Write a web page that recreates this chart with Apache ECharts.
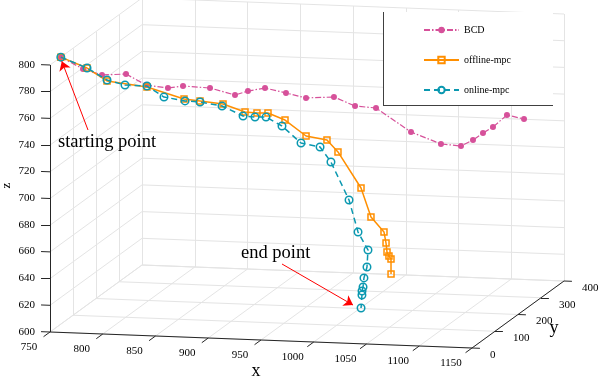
<!DOCTYPE html>
<html>
<head>
<meta charset="utf-8">
<script src="https://cdn.jsdelivr.net/npm/echarts@6/dist/echarts.min.js"></script>
<style>
html, body { margin: 0; padding: 0; background: #fff; }
#chart { width: 600px; height: 378px; }
</style>
</head>
<body>
<div id="chart"></div>
<script>
// axis ticks
var xTicks = [750, 800, 850, 900, 950, 1000, 1050, 1100, 1150];
var yTicks = [0, 100, 200, 300, 400];
var zTicks = [600, 620, 640, 660, 680, 700, 720, 740, 760, 780, 800];

var seriesNames = ['BCD', 'offline-mpc', 'online-mpc'];

// BCD trajectory
var bcdX = [750, 769.3, 785.1, 805.7, 822.5, 841.1, 853.2, 876.6, 898.1, 908.2, 922.2, 939.9, 956.7, 981.0, 998.8, 1016.5, 1047.5, 1073.7, 1090.5, 1099.7, 1107.0, 1113.2, 1122.1, 1133.9];
var bcdY = [47, 55, 65, 75, 85, 95, 105, 115, 125, 135, 145, 155, 165, 175, 185, 195, 205, 215, 225, 235, 245, 260, 280, 300];
var bcdZ = [800, 790.7, 785.4, 785.5, 776.5, 773.6, 774.2, 772.1, 766.3, 768.3, 769.7, 765.3, 760.8, 761.0, 753.5, 751.3, 733.0, 723.6, 721.3, 724.8, 729.0, 731.8, 738.6, 733.4];

// offline-mpc trajectory
var offX = [750, 774.2, 792.7, 829.7, 864.4, 879.1, 900.5, 920.9, 931.8, 941.8, 957.5, 977.0, 996.4, 1006.4, 1027.8, 1036.8, 1048.7, 1050.2, 1050.7, 1052.1, 1053.6, 1053.2];
var offY = [47, 50, 52, 56, 58, 60, 62, 64, 66, 68, 70, 72, 74, 76, 78, 80, 82, 84, 86, 88, 90, 92];
var offZ = [800, 792.2, 782.8, 778.9, 770.7, 769.4, 767.5, 761.9, 761.2, 761.3, 756.2, 744.6, 741.9, 733.0, 706.4, 684.7, 673.6, 665.1, 658.1, 654.9, 652.5, 641.0];

// online-mpc trajectory
var onX = [750, 774.2, 792.7, 809.3, 829.7, 845.4, 864.9, 878.7, 899.1, 918.6, 929.5, 939.5, 954.2, 971.8, 989.4, 999.3, 1016.0, 1024.1, 1033.1, 1031.7, 1028.4, 1027.1, 1025.7, 1025.2, 1023.9];
var onY = [47, 50, 52, 54, 56, 58, 60, 62, 64, 66, 68, 70, 72, 74, 76, 78, 80, 82, 84, 86, 88, 90, 92, 94, 96];
var onZ = [800, 792.2, 783.5, 780.0, 779.6, 771.6, 769.0, 768.4, 765.7, 758.6, 757.9, 757.9, 751.4, 738.9, 736.2, 725.0, 696.8, 672.8, 659.4, 646.3, 637.8, 630.7, 627.4, 624.2, 614.1];

var xr = [750, 1150], yr = [0, 400], zr = [600, 800];
// screen placement of the box: corner (750,0,600) and full span of each axis
var view = { o: [50, 332], ex: [422, 16], ey: [92, -67], ez: [0, -267] };

function proj(x, y, z) {
  var u = (x - xr[0]) / (xr[1] - xr[0]);
  var v = (y - yr[0]) / (yr[1] - yr[0]);
  var w = (z - zr[0]) / (zr[1] - zr[0]);
  return [
    view.o[0] + u * view.ex[0] + v * view.ey[0] + w * view.ez[0],
    view.o[1] + u * view.ex[1] + v * view.ey[1] + w * view.ez[1]
  ];
}
function seg(a, b) {
  return { coords: [proj(a[0], a[1], a[2]), proj(b[0], b[1], b[2])] };
}
function track(xs, ys, zs) {
  return xs.map(function (x, i) { return proj(x, ys[i], zs[i]); });
}

var font = '"Liberation Serif", "Times New Roman", serif';

// grid on floor, left wall, back wall
var gridSegs = [];
xTicks.forEach(function (x) {
  gridSegs.push(seg([x, yr[0], zr[0]], [x, yr[1], zr[0]]));
  gridSegs.push(seg([x, yr[1], zr[0]], [x, yr[1], zr[1]]));
});
yTicks.forEach(function (y) {
  gridSegs.push(seg([xr[0], y, zr[0]], [xr[1], y, zr[0]]));
  gridSegs.push(seg([xr[0], y, zr[0]], [xr[0], y, zr[1]]));
});
zTicks.forEach(function (z) {
  gridSegs.push(seg([xr[0], yr[0], z], [xr[0], yr[1], z]));
  gridSegs.push(seg([xr[0], yr[1], z], [xr[1], yr[1], z]));
});

// axis lines + ticks
var axisSegs = [
  seg([xr[0], yr[0], zr[0]], [xr[0], yr[0], zr[1]]),
  seg([xr[0], yr[0], zr[0]], [xr[1], yr[0], zr[0]]),
  seg([xr[1], yr[0], zr[0]], [xr[1], yr[1], zr[0]])
];
var labels = [];
xTicks.forEach(function (x) {
  axisSegs.push(seg([x, 0, 600], [x, -28, 600]));
  var p = proj(x, 0, 600);
  labels.push({ p: [p[0] - 21, p[1] + 15], text: String(x), size: 11, align: 'center' });
});
yTicks.forEach(function (y) {
  axisSegs.push(seg([1150, y, 600], [1157.5, y, 600]));
  var p = proj(1150, y, 600);
  labels.push({ p: [p[0] + 18, p[1] + 7], text: String(y), size: 11, align: 'left' });
});
zTicks.forEach(function (z) {
  axisSegs.push(seg([750, 0, z], [741.5, 0, z]));
  var p = proj(741.5, 0, z);
  labels.push({ p: [p[0] - 6, p[1]], text: String(z), size: 11, align: 'right' });
});

// axis titles
var px = proj(950, 0, 600), py = proj(1150, 200, 600), pz = proj(750, 0, 700);
labels.push({ p: [px[0] - 5, px[1] + 31], text: 'x', size: 18, align: 'center' });
labels.push({ p: [py[0] + 36, py[1] + 14], text: 'y', size: 18, align: 'center' });
labels.push({ p: [pz[0] - 43, pz[1] - 13], text: 'z', size: 13, align: 'center', rot: Math.PI / 2 });

// annotations
var startP = proj(onX[0], onY[0], onZ[0]);
var endP = proj(onX[onX.length - 1], onY[onY.length - 1], onZ[onZ.length - 1]);
labels.push({ p: [58, 142], text: 'starting point', size: 18.5, align: 'left' });
labels.push({ p: [241, 253.5], text: 'end point', size: 18.5, align: 'left' });
var arrows = [
  { coords: [[88, 130], [startP[0] + 1, startP[1] + 4]] },
  { coords: [[282, 264], [endP[0] - 8, endP[1] - 3]] }
];

var bcdColor = '#d6519a', offColor = '#ff8f00', onColor = '#0a98b0';

var chart = echarts.init(document.getElementById('chart'), null, { renderer: 'canvas' });
chart.setOption({
  animation: false,
  backgroundColor: '#fff',
  grid: { left: 0, right: 0, top: 0, bottom: 0 },
  xAxis: { type: 'value', min: 0, max: 600, show: false },
  yAxis: { type: 'value', min: 0, max: 378, inverse: true, show: false },
  legend: {
    data: seriesNames,
    orient: 'vertical',
    left: 423,
    top: 25,
    padding: 0,
    itemWidth: 35,
    itemHeight: 8,
    itemGap: 20,
    textStyle: { fontFamily: font, fontSize: 10, color: '#000' }
  },
  graphic: [
    { type: 'rect', z: 3, shape: { x: 383, y: 12, width: 170, height: 93 }, style: { fill: '#fff' } },
    { type: 'line', z: 3, shape: { x1: 383.5, y1: 12, x2: 383.5, y2: 105.5 }, style: { stroke: '#404040', lineWidth: 1 } },
    { type: 'line', z: 3, shape: { x1: 383, y1: 105.5, x2: 553, y2: 105.5 }, style: { stroke: '#404040', lineWidth: 1 } }
  ],
  series: [
    {
      type: 'lines', coordinateSystem: 'cartesian2d', silent: true, z: 1,
      data: gridSegs,
      lineStyle: { color: '#e4e4e4', width: 1, opacity: 1 }
    },
    {
      type: 'lines', coordinateSystem: 'cartesian2d', silent: true, z: 2,
      data: axisSegs,
      lineStyle: { color: '#262626', width: 1, opacity: 1 }
    },
    {
      name: 'BCD', type: 'line', z: 5,
      data: track(bcdX, bcdY, bcdZ),
      symbol: 'circle', symbolSize: 6,
      itemStyle: { color: bcdColor },
      lineStyle: { color: bcdColor, width: 1.2, type: [6, 2, 1.5, 2] }
    },
    {
      name: 'offline-mpc', type: 'line', z: 6,
      data: track(offX, offY, offZ),
      symbol: 'rect', symbolSize: 6,
      itemStyle: { color: 'rgba(255,255,255,0)', borderColor: offColor, borderWidth: 1.5 },
      lineStyle: { color: offColor, width: 1.5 }
    },
    {
      name: 'online-mpc', type: 'line', z: 7,
      data: track(onX, onY, onZ),
      symbol: 'circle', symbolSize: 7.5,
      itemStyle: { color: 'rgba(255,255,255,0)', borderColor: onColor, borderWidth: 1.5 },
      lineStyle: { color: onColor, width: 1.5, type: [6, 4] }
    },
    {
      type: 'lines', coordinateSystem: 'cartesian2d', silent: true, z: 8,
      data: arrows,
      symbol: ['none', 'arrow'], symbolSize: 9,
      lineStyle: { color: '#ff0000', width: 1, opacity: 1 }
    },
    {
      type: 'custom', coordinateSystem: 'cartesian2d', silent: true, z: 9,
      data: labels.map(function (l) { return l.p; }),
      renderItem: function (params, api) {
        var l = labels[params.dataIndex];
        var c = api.coord([api.value(0), api.value(1)]);
        return {
          type: 'text', x: c[0], y: c[1], rotation: l.rot || 0,
          style: {
            text: l.text, fill: '#000',
            font: l.size + 'px ' + font,
            align: l.align, textAlign: l.align,
            verticalAlign: 'middle', textVerticalAlign: 'middle'
          }
        };
      }
    }
  ]
});
</script>
</body>
</html>
